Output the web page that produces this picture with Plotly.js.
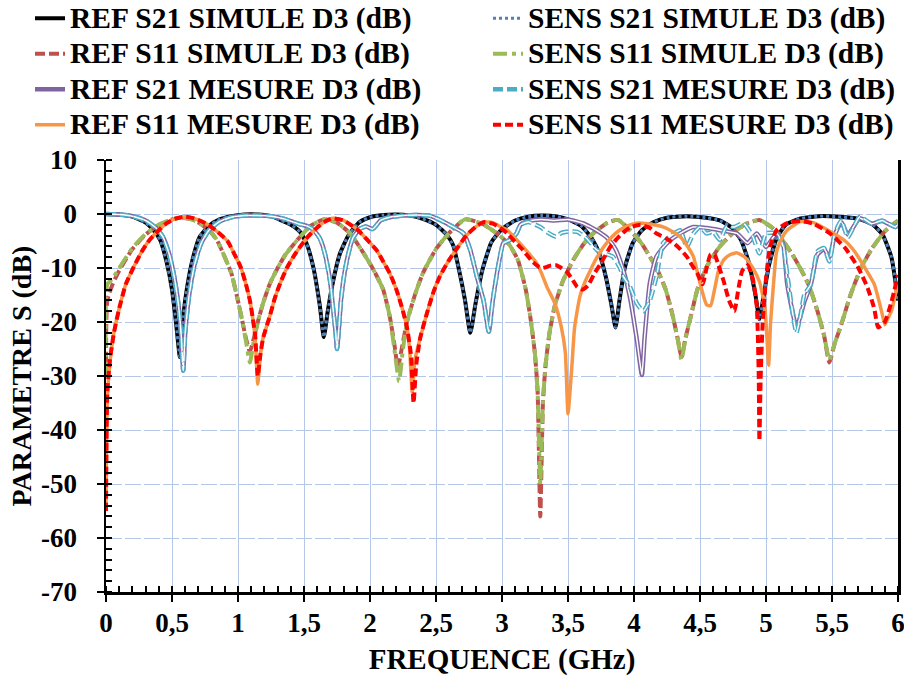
<!DOCTYPE html>
<html>
<head>
<meta charset="utf-8">
<script src="https://cdn.plot.ly/plotly-3.0.1.min.js"></script>
<style>html,body{margin:0;padding:0;background:#fff;}#chart{width:904px;height:679px;}</style>
</head>
<body>
<div id="chart"></div>
<script>
// ---- data (frequency GHz, dB) ----
const seriesNames = [
  "REF S21 SIMULE D3 (dB)", "SENS S21 SIMULE D3 (dB)",
  "REF S11 SIMULE D3 (dB)", "SENS S11 SIMULE D3 (dB)",
  "REF S21 MESURE D3 (dB)", "SENS S21 MESURE D3 (dB)",
  "REF S11 MESURE D3 (dB)", "SENS S11 MESURE D3 (dB)"
];

const refS21Sim = [[0,0],[0.1,-0.1],[0.2,-0.5],[0.3,-1.6],[0.36,-3.0],[0.41,-4.8],[0.46,-9],[0.5,-14],[0.53,-20],[0.56,-26.5],[0.585,-19],[0.615,-13.5],[0.655,-8.5],[0.71,-4.2],[0.78,-2.2],[0.86,-1.0],[0.95,-0.4],[1.05,-0.1],[1.15,-0.1],[1.25,-0.4],[1.32,-1.1],[1.4,-2],[1.47,-3.3],[1.52,-5.5],[1.57,-9.8],[1.62,-17],[1.65,-22.8],[1.68,-18],[1.72,-12.5],[1.77,-7.5],[1.84,-3.8],[1.92,-1.5],[2.0,-0.6],[2.1,-0.2],[2.2,-0.1],[2.3,-0.3],[2.4,-0.9],[2.5,-2.0],[2.58,-3.8],[2.63,-5.8],[2.68,-11],[2.72,-16],[2.76,-22],[2.8,-16.5],[2.85,-10.5],[2.92,-5.2],[3.0,-2.8],[3.1,-1.2],[3.2,-0.5],[3.3,-0.3],[3.4,-0.4],[3.5,-1.0],[3.6,-2.2],[3.68,-4.5],[3.74,-7.5],[3.79,-12],[3.83,-17],[3.86,-21],[3.89,-16],[3.93,-10],[3.99,-5.4],[4.06,-3],[4.15,-1.5],[4.25,-0.7],[4.4,-0.4],[4.55,-0.7],[4.65,-1.2],[4.74,-2.5],[4.81,-4.8],[4.87,-9],[4.92,-15],[4.95,-19.5],[4.98,-15.5],[5.02,-9.8],[5.08,-4.5],[5.15,-2],[5.25,-0.9],[5.4,-0.4],[5.55,-0.5],[5.7,-0.9],[5.8,-1.8],[5.88,-3.7],[5.95,-8],[6.0,-16]];

const sensS21Sim = [[0,0],[0.1,-0.1],[0.2,-0.5],[0.3,-1.6],[0.36,-3.0],[0.41,-4.8],[0.46,-9],[0.5,-14],[0.53,-20],[0.56,-26.5],[0.585,-19],[0.615,-13.5],[0.655,-8.5],[0.71,-4.2],[0.78,-2.2],[0.86,-1.0],[0.95,-0.4],[1.05,-0.1],[1.15,-0.1],[1.25,-0.4],[1.32,-1.1],[1.4,-2],[1.47,-3.3],[1.52,-5.5],[1.57,-9.8],[1.62,-17],[1.65,-22.8],[1.68,-18],[1.72,-12.5],[1.77,-7.5],[1.84,-3.8],[1.92,-1.5],[2.0,-0.6],[2.1,-0.2],[2.2,-0.1],[2.3,-0.3],[2.4,-0.9],[2.5,-2.0],[2.58,-3.8],[2.63,-5.8],[2.68,-11],[2.72,-16],[2.76,-22],[2.8,-16.5],[2.85,-10.5],[2.92,-5.2],[3.0,-2.8],[3.1,-1.2],[3.2,-0.5],[3.3,-0.3],[3.4,-0.4],[3.5,-1.0],[3.6,-2.2],[3.68,-4.5],[3.74,-7.5],[3.79,-12],[3.83,-17],[3.86,-21],[3.89,-16],[3.93,-10],[3.99,-5.4],[4.06,-3],[4.15,-1.5],[4.25,-0.7],[4.4,-0.4],[4.55,-0.7],[4.65,-1.2],[4.74,-2.5],[4.81,-4.8],[4.87,-9],[4.92,-15],[4.95,-19.5],[4.98,-15.5],[5.02,-9.8],[5.08,-4.5],[5.15,-2],[5.25,-0.9],[5.4,-0.4],[5.55,-0.5],[5.7,-0.9],[5.8,-1.8],[5.88,-3.7],[5.95,-8],[6.0,-16]];

const refS11Sim = [[0,-30],[0.01,-16],[0.05,-13],[0.1,-10.5],[0.2,-6.5],[0.3,-3.8],[0.4,-2.0],[0.5,-1.0],[0.57,-0.7],[0.65,-1.0],[0.71,-1.7],[0.78,-3.0],[0.84,-4.8],[0.9,-8],[0.95,-11],[0.99,-15],[1.03,-19.5],[1.06,-23],[1.09,-25.5],[1.12,-23],[1.15,-20],[1.19,-16.5],[1.24,-13],[1.3,-10],[1.36,-7.5],[1.45,-4.8],[1.55,-2.2],[1.65,-1.0],[1.75,-1.6],[1.85,-3.6],[1.95,-7.2],[2.03,-10.5],[2.1,-14],[2.15,-19],[2.19,-25],[2.21,-28.5],[2.24,-25],[2.28,-20],[2.34,-15],[2.4,-11],[2.5,-6.5],[2.6,-3.5],[2.72,-1.0],[2.85,-1.8],[2.95,-3.4],[3.05,-5.5],[3.12,-8.5],[3.18,-14],[3.22,-20],[3.25,-26],[3.27,-33],[3.29,-56],[3.31,-35],[3.33,-28],[3.36,-22],[3.4,-17],[3.46,-12.5],[3.54,-8.5],[3.62,-5.5],[3.7,-3.4],[3.8,-1.6],[3.88,-1.1],[3.97,-3.0],[4.05,-5.2],[4.12,-7.9],[4.18,-10.5],[4.24,-14],[4.29,-18.5],[4.33,-23],[4.36,-26.5],[4.39,-23],[4.43,-19],[4.48,-14],[4.55,-9.8],[4.65,-6.0],[4.75,-3.5],[4.85,-1.8],[4.95,-1.1],[5.05,-2.6],[5.13,-5],[5.2,-7.5],[5.27,-10.5],[5.33,-13.5],[5.39,-18],[5.44,-22.5],[5.48,-27.5],[5.52,-24],[5.57,-20.5],[5.64,-15],[5.72,-10],[5.8,-6.5],[5.9,-3.2],[6.0,-1.2]];

const sensS11Sim = [[0,-30],[0.01,-13],[0.05,-12],[0.1,-10],[0.2,-6.3],[0.3,-3.7],[0.4,-2.0],[0.5,-1.0],[0.57,-0.7],[0.65,-1.0],[0.71,-1.7],[0.78,-3.0],[0.84,-4.8],[0.9,-8],[0.95,-11],[0.99,-15],[1.03,-19.5],[1.06,-23.5],[1.09,-27.5],[1.12,-23.5],[1.15,-20],[1.19,-16.5],[1.24,-13],[1.3,-10],[1.36,-7.5],[1.45,-4.8],[1.55,-2.2],[1.65,-1.0],[1.75,-1.6],[1.85,-3.6],[1.95,-7.2],[2.03,-10.5],[2.1,-14],[2.15,-19],[2.19,-26],[2.22,-31],[2.25,-25],[2.28,-20],[2.34,-15],[2.4,-11],[2.5,-6.5],[2.6,-3.5],[2.72,-1.0],[2.85,-1.8],[2.95,-3.4],[3.05,-5.5],[3.12,-8.5],[3.18,-14],[3.22,-20],[3.25,-26],[3.27,-33],[3.29,-50],[3.31,-35],[3.33,-28],[3.36,-22],[3.4,-17],[3.46,-12.5],[3.54,-8.5],[3.62,-5.5],[3.7,-3.4],[3.8,-1.6],[3.88,-1.1],[3.97,-3.0],[4.05,-5.2],[4.12,-7.9],[4.18,-10.5],[4.24,-14],[4.29,-18.5],[4.33,-23],[4.36,-27],[4.39,-23],[4.43,-19],[4.48,-14],[4.55,-9.8],[4.65,-6.0],[4.75,-3.5],[4.85,-1.8],[4.95,-1.1],[5.05,-2.6],[5.13,-5],[5.2,-7.5],[5.27,-10.5],[5.33,-13.5],[5.39,-18],[5.44,-22.5],[5.48,-27],[5.52,-24],[5.57,-20.5],[5.64,-15],[5.72,-10],[5.8,-6.5],[5.9,-3.2],[6.0,-1.2]];

const refS21Mes = [[0,0],[0.1,-0.1],[0.2,-0.4],[0.3,-1.2],[0.38,-2.6],[0.43,-4.2],[0.48,-7.5],[0.52,-12],[0.55,-17],[0.57,-22.5],[0.585,-29],[0.6,-22],[0.63,-15],[0.67,-9.5],[0.72,-5.5],[0.78,-3],[0.86,-1.4],[0.95,-0.6],[1.05,-0.3],[1.15,-0.3],[1.25,-0.4],[1.35,-0.9],[1.42,-1.5],[1.47,-1.9],[1.52,-2.2],[1.57,-2.9],[1.62,-4.5],[1.66,-7.5],[1.7,-12.8],[1.72,-17.5],[1.74,-22],[1.75,-25],[1.765,-21],[1.78,-16],[1.8,-12],[1.83,-8],[1.87,-4.5],[1.92,-2.8],[1.97,-2.3],[2.02,-2.8],[2.08,-1.2],[2.15,-0.6],[2.25,-0.3],[2.35,-0.2],[2.45,-0.3],[2.53,-1.1],[2.63,-2.4],[2.71,-3.6],[2.76,-6.7],[2.81,-11.6],[2.86,-16],[2.9,-21.8],[2.93,-16],[2.98,-8.5],[3.01,-5.4],[3.06,-4.8],[3.11,-3.6],[3.14,-2.0],[3.2,-1.3],[3.3,-1.0],[3.4,-1.2],[3.5,-1.0],[3.61,-1.7],[3.67,-2.4],[3.74,-3.4],[3.8,-4.5],[3.86,-6.5],[3.92,-10.5],[3.97,-15.5],[4.02,-23],[4.06,-29.8],[4.08,-23],[4.12,-12.8],[4.17,-7.9],[4.25,-5.4],[4.35,-3.6],[4.45,-2.4],[4.55,-2.6],[4.65,-3],[4.78,-3.6],[4.86,-5.4],[4.93,-3.6],[5.0,-6.1],[5.08,-3.6],[5.13,-5.6],[5.16,-12.8],[5.2,-18],[5.23,-21],[5.26,-19],[5.29,-16.3],[5.34,-13],[5.39,-7.5],[5.44,-6.5],[5.48,-8],[5.52,-4],[5.57,-1.5],[5.62,-3.8],[5.71,-0.8],[5.8,-1.8],[5.88,-1.3],[5.98,-2.4],[6.0,-2.0]];

const sensS21Mes = [[0,0],[0.1,-0.1],[0.2,-0.4],[0.3,-1.2],[0.38,-2.6],[0.43,-4.2],[0.48,-7.5],[0.52,-12],[0.55,-17],[0.57,-22.5],[0.585,-29],[0.6,-22],[0.63,-15],[0.67,-9.5],[0.72,-5.5],[0.78,-3],[0.86,-1.4],[0.95,-0.6],[1.05,-0.3],[1.15,-0.3],[1.25,-0.4],[1.35,-0.9],[1.42,-1.5],[1.47,-1.9],[1.52,-2.2],[1.57,-2.9],[1.62,-4.5],[1.66,-7.5],[1.7,-12.8],[1.72,-17.5],[1.74,-22],[1.75,-25],[1.765,-21],[1.78,-16],[1.8,-12],[1.83,-8],[1.87,-4.5],[1.92,-2.8],[1.97,-2.3],[2.02,-2.8],[2.08,-1.2],[2.15,-0.6],[2.25,-0.3],[2.35,-0.2],[2.45,-0.3],[2.53,-1.1],[2.63,-2.4],[2.71,-3.6],[2.76,-6.7],[2.81,-11.6],[2.86,-16],[2.9,-21.8],[2.93,-16],[2.98,-8.5],[3.01,-5.4],[3.06,-4.8],[3.11,-3.6],[3.14,-2.0],[3.2,-1.5],[3.29,-2.4],[3.35,-3.5],[3.41,-4.2],[3.45,-3.5],[3.49,-3.3],[3.57,-3.3],[3.64,-4.5],[3.72,-6.7],[3.8,-7.5],[3.84,-7.9],[3.89,-9.8],[3.92,-11.6],[3.97,-13.5],[4.02,-16.5],[4.07,-18],[4.12,-16],[4.17,-11.6],[4.22,-5.4],[4.27,-4.2],[4.35,-3],[4.4,-6.1],[4.45,-3.6],[4.5,-2.4],[4.55,-3.6],[4.6,-3.3],[4.65,-4.8],[4.7,-2.4],[4.76,-2.4],[4.83,-1.7],[4.9,-4.2],[4.95,-7.3],[5.0,-3.6],[5.08,-3.6],[5.13,-6],[5.16,-11],[5.2,-18],[5.23,-22],[5.26,-19],[5.29,-15],[5.34,-13],[5.39,-6.9],[5.44,-6.3],[5.48,-8.8],[5.52,-3.7],[5.57,-1.2],[5.62,-4.3],[5.71,-0.5],[5.8,-1.8],[5.88,-1.2],[5.98,-2.4],[6.0,-1.8]];

const refS11Mes = [[0,-55],[0.01,-34],[0.03,-27.5],[0.06,-22],[0.1,-17.5],[0.15,-13],[0.21,-9.8],[0.27,-7],[0.33,-4.8],[0.4,-3],[0.46,-1.7],[0.52,-0.9],[0.6,-0.5],[0.68,-0.9],[0.76,-1.8],[0.84,-3.2],[0.92,-5],[0.98,-7.8],[1.02,-9.8],[1.06,-13],[1.09,-16],[1.11,-19],[1.13,-23],[1.15,-31.5],[1.17,-26],[1.19,-23],[1.24,-19],[1.28,-15.5],[1.32,-12.8],[1.37,-10],[1.42,-7.9],[1.47,-6.1],[1.53,-4.2],[1.6,-2.5],[1.66,-1.4],[1.72,-0.8],[1.8,-1.2],[1.9,-2.8],[1.98,-4.8],[2.05,-6.7],[2.1,-8.8],[2.15,-11],[2.2,-14],[2.25,-18],[2.28,-21],[2.3,-25],[2.32,-33],[2.34,-27],[2.38,-23],[2.43,-18.5],[2.48,-14.5],[2.53,-11.5],[2.6,-8.5],[2.67,-6],[2.73,-4],[2.8,-2.4],[2.86,-1.5],[2.93,-1.6],[3.0,-2.5],[3.04,-3],[3.1,-4.5],[3.16,-6.1],[3.21,-7.5],[3.26,-9],[3.3,-11],[3.34,-13.5],[3.4,-16.5],[3.45,-21],[3.48,-25.7],[3.5,-37],[3.53,-28],[3.55,-21],[3.59,-15.3],[3.63,-12.5],[3.67,-10.4],[3.72,-8],[3.77,-6.1],[3.83,-4.3],[3.89,-3],[3.95,-2.2],[4.02,-1.7],[4.1,-1.8],[4.22,-2.4],[4.3,-3.4],[4.35,-4.2],[4.4,-5.8],[4.45,-7.9],[4.5,-12.8],[4.55,-16.8],[4.58,-17],[4.61,-14],[4.64,-10.5],[4.68,-8.5],[4.73,-7.5],[4.78,-7.2],[4.84,-8],[4.9,-10],[4.95,-12.5],[4.99,-17],[5.01,-24],[5.02,-28],[5.035,-20],[5.06,-12],[5.08,-7],[5.12,-4.5],[5.16,-3],[5.26,-1.4],[5.36,-1.6],[5.49,-3.3],[5.6,-5],[5.67,-6.9],[5.75,-10],[5.82,-13],[5.86,-16.5],[5.88,-18.5],[5.9,-20.5],[5.93,-19],[5.95,-18],[6.0,-12.6]];

const sensS11Mes = [[0,-55],[0.01,-33],[0.03,-27],[0.06,-22],[0.1,-17.5],[0.15,-13],[0.21,-9.8],[0.27,-7],[0.33,-4.8],[0.4,-3],[0.46,-1.7],[0.52,-0.9],[0.6,-0.5],[0.68,-0.9],[0.76,-1.8],[0.84,-3.2],[0.92,-5],[0.98,-7.8],[1.02,-9.8],[1.06,-13],[1.09,-16],[1.11,-19],[1.13,-22.5],[1.15,-30],[1.17,-26],[1.19,-23],[1.24,-19],[1.28,-15.5],[1.32,-12.8],[1.37,-10],[1.42,-7.9],[1.47,-6.1],[1.53,-4.2],[1.6,-2.5],[1.66,-1.4],[1.72,-0.8],[1.8,-1.2],[1.9,-2.8],[1.98,-4.8],[2.05,-6.7],[2.1,-8.8],[2.15,-11],[2.2,-14],[2.25,-18],[2.28,-21],[2.31,-26],[2.33,-35],[2.35,-28],[2.38,-23],[2.43,-18.5],[2.48,-14.5],[2.53,-11.5],[2.6,-8.5],[2.67,-6],[2.73,-4],[2.8,-2.4],[2.86,-1.5],[2.93,-1.8],[3.0,-2.8],[3.04,-3.6],[3.1,-5.2],[3.16,-6.7],[3.23,-8.8],[3.28,-9.8],[3.31,-10],[3.36,-9.6],[3.41,-9.5],[3.45,-10],[3.49,-10.7],[3.53,-12],[3.57,-13.5],[3.61,-14],[3.65,-13.3],[3.7,-11],[3.74,-9.5],[3.78,-7.8],[3.82,-6.1],[3.87,-4.6],[3.92,-3.4],[3.97,-2.5],[4.05,-2.0],[4.12,-2.6],[4.17,-3.6],[4.24,-4.5],[4.3,-5.4],[4.35,-6.5],[4.4,-7.9],[4.44,-9.5],[4.48,-11],[4.52,-13],[4.55,-10],[4.58,-7.5],[4.61,-7.5],[4.64,-9.5],[4.68,-12.5],[4.72,-16],[4.76,-18],[4.79,-14],[4.82,-10.5],[4.86,-9.5],[4.9,-12],[4.93,-17],[4.945,-30],[4.95,-42],[4.96,-30],[4.975,-20],[5.0,-12],[5.03,-6.1],[5.08,-3],[5.16,-1.7],[5.26,-1.3],[5.36,-1.8],[5.49,-3.7],[5.6,-6.3],[5.7,-10],[5.77,-13.7],[5.82,-17.5],[5.85,-21],[5.9,-20],[5.95,-16.3],[6.0,-11.3]];

const xTickVals = [0,0.5,1,1.5,2,2.5,3,3.5,4,4.5,5,5.5,6];
const xTickText = ["0","0,5","1","1,5","2","2,5","3","3,5","4","4,5","5","5,5","6"];
const yTickVals = [-70,-60,-50,-40,-30,-20,-10,0,10];
const yTickText = ["-70","-60","-50","-40","-30","-20","-10","0","10"];

// ---- build traces ----
const FONT = "Liberation Serif";
const xs = a => a.map(p => p[0]);
const ys = a => a.map(p => p[1]);
function nm(s){ return '<span style="font-size:29.5px">' + s + '</span>'; }
function tr(data, name, legend, line, show){
  return {x: xs(data), y: ys(data), type: 'scatter', mode: 'lines',
    name: nm(name), legend: legend, showlegend: show !== false,
    line: Object.assign({shape: 'spline', smoothing: 0.5}, line), hoverinfo: 'skip'};
}
const traces = [
  tr(refS21Sim, seriesNames[0], 'legend', {color: '#000000', width: 4}),
  tr(sensS21Sim, seriesNames[1], 'legend2', {color: '#4f81bd', width: 3, dash: '3px,3px'}),
  tr(refS11Sim, seriesNames[2], 'legend', {color: '#c0504d', width: 4, dash: '10px,4px'}),
  tr(sensS11Sim, seriesNames[3], 'legend2', {color: '#9bbb59', width: 4, dash: '14px,5px,4px,5px'}),
  tr(refS21Mes, seriesNames[4], 'legend', {color: '#8064a2', width: 4.5}),
  tr(refS21Mes, seriesNames[4], 'legend', {color: '#ffffff', width: 1.5}, false),
  tr(sensS21Mes, seriesNames[5], 'legend2', {color: '#4bacc6', width: 4.5, dash: '10px,4px'}),
  tr(sensS21Mes, seriesNames[5], 'legend2', {color: '#ffffff', width: 1.5, dash: '10px,4px'}, false),
  tr(refS11Mes, seriesNames[6], 'legend', {color: '#f79646', width: 3.5}),
  tr(sensS11Mes, seriesNames[7], 'legend2', {color: '#ff0000', width: 4, dash: '8px,4px'})
];

const gridCol = '#b4c7e7';
const legendCommon = {
  orientation: 'v', xanchor: 'left', yanchor: 'top', y: 1.381,
  bgcolor: 'rgba(0,0,0,0)', borderwidth: 0,
  font: {family: FONT, size: 25, color: '#000', weight: 'bold'},
  itemwidth: 30, traceorder: 'normal'
};
const layout = {
  width: 904, height: 679,
  margin: {l: 106, r: 6, t: 160, b: 87, autoexpand: false},
  paper_bgcolor: '#ffffff', plot_bgcolor: '#ffffff',
  font: {family: FONT, color: '#000', weight: 'bold'},
  showlegend: true,
  legend: Object.assign({}, legendCommon, {x: (30 - 106) / 792}),
  legend2: Object.assign({}, legendCommon, {x: (488 - 106) / 792}),
  xaxis: {
    range: [0, 6], tickmode: 'array', tickvals: xTickVals, ticktext: xTickText,
    ticks: 'outside', ticklen: 7, tickwidth: 2, tickcolor: '#000',
    minor: {dtick: 0.1, tick0: 0, ticks: 'inside', ticklen: 6, tickwidth: 2, tickcolor: '#000', showgrid: false},
    showline: true, linecolor: '#000', linewidth: 2.5, mirror: false,
    showgrid: true, gridcolor: gridCol, gridwidth: 1, zeroline: false,
    tickfont: {family: FONT, size: 27, color: '#000', weight: 'bold'},
    ticklabelstandoff: -2, ticklabeloverflow: 'allow',
    title: {text: 'FREQUENCE (GHz)', font: {family: FONT, size: 29, color: '#000', weight: 'bold'}, standoff: 12}
  },
  yaxis: {
    range: [-70, 10], tickmode: 'array', tickvals: yTickVals, ticktext: yTickText,
    ticks: 'outside', ticklen: 7, tickwidth: 2, tickcolor: '#000',
    minor: {dtick: 2, tick0: 0, ticks: 'inside', ticklen: 6, tickwidth: 2, tickcolor: '#000', showgrid: false},
    showline: true, linecolor: '#000', linewidth: 2.5, mirror: true,
    showgrid: true, gridcolor: gridCol, gridwidth: 1, griddash: '16px,3px', zeroline: false,
    tickfont: {family: FONT, size: 27, color: '#000', weight: 'bold'},
    ticklabelstandoff: 14, ticklabeloverflow: 'allow',
    title: {text: 'PARAMETRE S (dB)', font: {family: FONT, size: 28, color: '#000', weight: 'bold'}, standoff: 2}
  }
};
Plotly.newPlot('chart', traces, layout, {staticPlot: true, displayModeBar: false});
</script>
</body>
</html>
